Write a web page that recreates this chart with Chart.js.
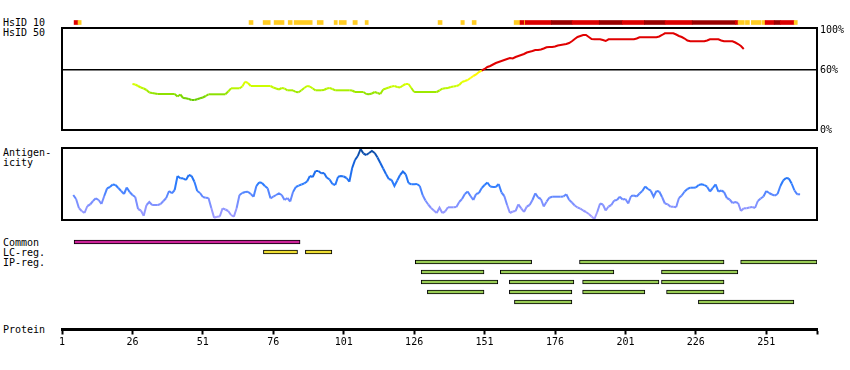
<!DOCTYPE html>
<html>
<head>
<meta charset="utf-8">
<script src="https://cdn.jsdelivr.net/npm/chart.js@4.4.0/dist/chart.umd.min.js"></script>
<style>
body { margin: 0; background: #fff; }
#wrap { position: relative; width: 850px; height: 370px; overflow: hidden; font-family: "DejaVu Sans Mono", monospace; font-size: 10px; color: #000; }
.lbl { position: absolute; left: 3px; line-height: 10px; white-space: nowrap; }
canvas { position: absolute; left: 0; }
</style>
</head>
<body>
<div id="wrap">
  <div class="lbl" style="top:18px">HsID 10</div>
  <div class="lbl" style="top:28px">HsID 50</div>
  <div class="lbl" style="top:148px">Antigen-</div>
  <div class="lbl" style="top:158px">icity</div>
  <div class="lbl" style="top:238px">Common</div>
  <div class="lbl" style="top:248px">LC-reg.</div>
  <div class="lbl" style="top:258px">IP-reg.</div>
  <div class="lbl" style="top:325px">Protein</div>

  <canvas id="hsid10" width="850" height="15" style="top:15px"></canvas>
  <canvas id="hsid50" width="850" height="122" style="top:18px"></canvas>
  <canvas id="antigen" width="850" height="90" style="top:140px"></canvas>
  <canvas id="features" width="850" height="80" style="top:232px"></canvas>
  <canvas id="protein" width="850" height="50" style="top:300px"></canvas>
</div>
<script>
// protein length and axis ticks
const proteinMin = 1;
const proteinMax = 269;
const proteinTicks = [1, 26, 51, 76, 101, 126, 151, 176, 201, 226, 251, 269];
const identityTicks = [0, 60, 100];

// HsID 10 blocks (residue from/to, level 0 = weak, 1 = strong, 2 = strongest)
const hsid10Start = [5.3, 6.7, 67.4, 72.4, 76.3, 81.3, 83.4, 91.6, 97.6, 99.4, 104.3, 108.6, 134.5, 142.6, 146.6,
  161.5, 163.6, 165.1, 165.4, 174.7, 182.1, 191.7, 199.9, 207.7, 215.1, 224.7, 240.0, 241.0, 243.6, 245.7, 249.6, 250.6, 253.8, 256.0, 260.9];
const hsid10End = [6.7, 7.8, 68.8, 74.9, 79.8, 82.7, 89.8, 93.7, 98.7, 101.9, 105.8, 109.7, 135.9, 143.8, 148.0,
  163.6, 165.1, 165.4, 174.7, 182.1, 191.7, 199.9, 207.7, 215.1, 224.7, 240.0, 241.0, 243.2, 245.0, 249.2, 250.6, 253.8, 256.0, 260.9, 262.0];
const hsid10Level = [1, 0, 0, 0, 0, 0, 0, 0, 0, 0, 0, 0, 0, 0, 0,
  0, 1, 0, 1, 2, 1, 2, 1, 2, 1, 2, 1, 0, 0, 0, 0, 1, 2, 1, 0];

// HsID 50 identity (%), one value per residue from residue 26
const hsid50Start = 26;
const hsid50 = [
  46, 45.5, 44, 42.5, 41.5, 40, 37.5, 37, 36.5, 36,
  36, 36, 36, 36, 36, 36, 33.5, 35.5, 32, 31.7,
  31, 30, 30, 30.8, 31.7, 32.5, 34, 35.7, 35.7, 35.7,
  35.7, 35.7, 35.7, 35.7, 38.5, 41.7, 41.7, 41.7, 41.7, 43.5,
  48.3, 47, 44, 44, 44, 44, 44, 44, 44, 44,
  42.5, 41.5, 40.5, 42, 41.5, 39.7, 39.7, 39.7, 38, 37.7,
  39.7, 42, 44, 43.5, 41.5, 39.7, 39.7, 39.7, 40, 41.5,
  42, 41, 39.7, 39.7, 39.7, 39.7, 39.7, 39.7, 39.5, 38,
  38, 38, 38, 36, 35.7, 36.5, 38, 37, 36, 40.5,
  41.5, 42.5, 43.5, 44, 43, 42.5, 44.5, 46, 46, 42,
  38, 38, 38, 38, 38, 38, 38, 38, 38, 39.5,
  41.3, 41.7, 42, 43, 43.5, 44, 45, 48, 49, 50,
  52, 54, 55.5, 58, 59.5, 61, 63, 64, 65.5, 67,
  68, 69, 70, 71, 72, 71.5, 73, 74, 75, 76,
  77.5, 78.3, 79, 80, 80, 80.5, 81.5, 82.7, 83, 83,
  83.5, 84.5, 85, 85.5, 86, 87, 88.7, 91, 93, 94,
  95, 95, 93, 91, 90.7, 90.7, 90.7, 90, 89, 90.7,
  90.7, 90.7, 90.7, 90.7, 90.7, 90.7, 90.7, 90.7, 90.7, 91.5,
  92.7, 92.7, 92.7, 92.7, 92.7, 92.7, 92.7, 93.5, 95, 96.7,
  96.7, 96.7, 96.7, 95.5, 94, 93, 91.5, 89.5, 88.7, 88.7,
  88.7, 88.7, 88.7, 88.7, 89.5, 90.7, 90.7, 90.7, 90.7, 89.5,
  88.7, 88.7, 88.7, 88.7, 87.5, 86, 84, 81
];

// antigenicity, one value per residue from residue 5
const antigenStart = 5;
const antigen = [
  25, 21, 12, 9, 7, 14, 15.5, 19, 21.7, 20,
  16, 24, 31.7, 33, 35.5, 35, 32, 29, 26, 32.5,
  28, 25, 23, 11, 9.5, 4.3, 15, 18, 15, 15,
  15, 16, 19, 22, 29, 26.7, 30, 44, 41.7, 41.7,
  40, 45, 44, 38.3, 29, 27, 23, 22.3, 22, 12,
  2.3, 3.3, 3.5, 11.7, 10.5, 9, 5, 3.3, 12, 25,
  27, 28, 28.3, 26, 23.3, 34, 37.7, 37, 34, 31.7,
  21.7, 23.3, 25, 26.7, 25, 20, 22, 18.5, 28, 33,
  34.3, 35.5, 36.7, 38.5, 44, 43, 49, 49, 46.7, 47,
  42.3, 40.5, 36, 35, 43.3, 44, 43.5, 42, 38.3, 52,
  60, 64, 71, 66.5, 65, 67, 69, 67, 62.5, 57,
  51.5, 46, 41, 40, 34, 39.5, 45, 48.5, 45.7, 37,
  35.7, 35.7, 36, 34, 25, 19.5, 15.5, 12, 9.5, 7,
  12.3, 7, 8.5, 12.7, 12.7, 12.7, 13, 18, 21, 26,
  28.5, 24, 20, 26, 27, 32, 35, 37.5, 33.5, 33,
  33, 36, 27.5, 24, 15, 7, 8.5, 9, 15.7, 11.7,
  8, 13.5, 15, 20, 26.7, 22.5, 21, 13.5, 18.3, 22.3,
  23.3, 23.3, 23.3, 23.3, 23.5, 25.7, 20.3, 17.5, 14.5, 12.5,
  11.3, 9.5, 8, 6, 3.5, 1, 8, 16.5, 15.5, 9.5,
  13.5, 15, 19.5, 20, 23.3, 20.5, 21, 16.5, 24, 24.5,
  23.5, 26.5, 29, 33.5, 31, 29.3, 23.3, 29, 28.5, 23,
  16.5, 15.8, 13.3, 13.3, 12.8, 22, 24.5, 28.5, 31, 32.3,
  32.3, 32.5, 35, 35.7, 35, 33.3, 28.5, 32, 35.7, 28.3,
  29.5, 28, 22, 20.5, 17, 18, 17, 9, 11.7, 11.7,
  12.5, 13, 12, 19, 21.5, 23.5, 29, 27, 25.5, 24.3,
  26, 34, 39.5, 42, 41.5, 36.5, 29.5, 25.7, 25.7
];

// feature rows
const featureRows = ['Common', 'LC-reg.', 'IP-reg.', 'IP-2', 'IP-3', 'IP-4', 'IP-5'];
const featureStart = [5.3, 72.5, 87.4,
  126.4, 184.7, 241.9,
  128.5, 156.6, 213.8,
  128.5, 159.8, 185.8, 213.8,
  130.7, 159.8, 185.8, 215.6,
  161.6, 226.9];
const featureEnd = [85.5, 84.6, 96.8,
  167.7, 236.0, 269.0,
  150.8, 196.9, 240.9,
  155.7, 182.7, 212.9, 236.0,
  150.8, 182.0, 207.9, 236.0,
  182.0, 260.8];
const featureRow = [0, 1, 1, 2, 2, 2, 3, 3, 3, 4, 4, 4, 4, 5, 5, 5, 5, 6, 6];
const featureColors = ['#cc2299', '#eedd33', '#99cc55'];

const hsid10Colors = ['#ffcc22', '#dd0000', '#990000'];
const font = { family: 'DejaVu Sans Mono', size: 10 };

Chart.defaults.font.family = 'DejaVu Sans Mono';
Chart.defaults.font.size = 10;
Chart.defaults.color = '#000';

const boxPlugin = {
    id: 'box',
    afterDraw(chart) {
        const a = chart.chartArea;
        const ctx = chart.ctx;
        ctx.save();
        ctx.strokeStyle = '#000';
        ctx.lineWidth = 2;
        ctx.strokeRect(a.left, a.top, a.right - a.left, a.bottom - a.top);
        ctx.restore();
    }
};

// green -> yellow below 60%, red above
function hsColor(v) {
    if (v >= 60) return '#e00000';
    const hue = Math.max(58, 90 - (v - 30) * 1.3);
    const light = Math.min(50, 40 + (v - 30) * 0.7);
    return `hsl(${hue}, 100%, ${light}%)`;
}

function mix(a, b, t) {
    return a.map((c, i) => Math.round(c + (b[i] - c) * t));
}

const antigenStops = [
    [0, [172, 160, 255]],
    [20, [115, 140, 255]],
    [35, [45, 125, 255]],
    [55, [20, 100, 225]],
    [72, [10, 70, 150]]
];
function antigenColor(v) {
    for (let i = 1; i < antigenStops.length; i++) {
        if (v <= antigenStops[i][0]) {
            const [v0, c0] = antigenStops[i - 1];
            const [v1, c1] = antigenStops[i];
            const c = mix(c0, c1, (v - v0) / (v1 - v0));
            return `rgb(${c[0]}, ${c[1]}, ${c[2]})`;
        }
    }
    return 'rgb(10, 70, 150)';
}

const xHidden = { type: 'linear', min: proteinMin, max: proteinMax, display: false };

// HsID 10 strip
new Chart(document.getElementById('hsid10'), {
    type: 'bar',
    data: {
        labels: ['HsID 10'],
        datasets: [{
            data: hsid10Start.map((s, i) => ({ x: [s, hsid10End[i]], y: 'HsID 10' })),
            backgroundColor: ctx => hsid10Colors[hsid10Level[ctx.dataIndex]],
            barThickness: 4,
            borderWidth: 0
        }]
    },
    options: {
        indexAxis: 'y',
        responsive: false,
        animation: false,
        layout: { padding: { left: 62, right: 33, top: 0, bottom: 0 } },
        plugins: { legend: { display: false }, tooltip: { enabled: false } },
        scales: { x: xHidden, y: { display: false } }
    }
});

// HsID 50 line
new Chart(document.getElementById('hsid50'), {
    type: 'line',
    data: {
        datasets: [{
            data: hsid50.map((v, i) => ({ x: hsid50Start + i, y: v })),
            borderWidth: 2,
            borderColor: '#e00000',
            pointRadius: 0,
            tension: 0,
            segment: {
                borderColor: ctx => hsColor((ctx.p0.parsed.y + ctx.p1.parsed.y) / 2)
            }
        }]
    },
    options: {
        responsive: false,
        animation: false,
        layout: { padding: { left: 62, right: 0, top: 10, bottom: 10 } },
        plugins: { legend: { display: false }, tooltip: { enabled: false } },
        scales: {
            x: xHidden,
            y: {
                position: 'right',
                min: 0,
                max: 102,
                afterBuildTicks: s => { s.ticks = identityTicks.map(v => ({ value: v })); },
                afterFit: s => { s.width = 33; },
                ticks: { padding: 3, font: font, color: '#000', callback: v => v + '%' },
                grid: {
                    drawTicks: false,
                    lineWidth: 1.5,
                    color: ctx => (ctx.tick && ctx.tick.value === 60) ? '#000' : 'rgba(0,0,0,0)'
                },
                border: { display: false }
            }
        }
    },
    plugins: [boxPlugin]
});

// antigenicity
new Chart(document.getElementById('antigen'), {
    type: 'line',
    data: {
        datasets: [{
            data: antigen.map((v, i) => ({ x: antigenStart + i, y: v })),
            borderWidth: 2,
            borderColor: '#3377ff',
            pointRadius: 0,
            tension: 0,
            segment: {
                borderColor: ctx => antigenColor((ctx.p0.parsed.y + ctx.p1.parsed.y) / 2)
            }
        }]
    },
    options: {
        responsive: false,
        animation: false,
        layout: { padding: { left: 62, right: 33, top: 8, bottom: 10 } },
        plugins: { legend: { display: false }, tooltip: { enabled: false } },
        scales: {
            x: xHidden,
            y: { display: false, min: 0, max: 72 }
        }
    },
    plugins: [boxPlugin]
});

// features
new Chart(document.getElementById('features'), {
    type: 'bar',
    data: {
        labels: featureRows,
        datasets: [{
            data: featureStart.map((s, i) => ({ x: [s, featureEnd[i]], y: featureRows[featureRow[i]] })),
            backgroundColor: ctx => featureColors[Math.min(featureRow[ctx.dataIndex], 2)],
            borderColor: '#000',
            borderWidth: 1,
            borderSkipped: false,
            barThickness: 4
        }]
    },
    options: {
        indexAxis: 'y',
        responsive: false,
        animation: false,
        layout: { padding: { left: 62, right: 33, top: 5, bottom: 5 } },
        plugins: { legend: { display: false }, tooltip: { enabled: false } },
        scales: { x: xHidden, y: { display: false } }
    }
});

// protein axis
new Chart(document.getElementById('protein'), {
    type: 'line',
    data: { datasets: [] },
    options: {
        responsive: false,
        animation: false,
        layout: { padding: { left: 62, right: 33, top: 0, bottom: 0 } },
        plugins: { legend: { display: false }, tooltip: { enabled: false } },
        scales: {
            x: {
                type: 'linear',
                position: 'bottom',
                min: proteinMin,
                max: proteinMax,
                afterBuildTicks: s => { s.ticks = proteinTicks.map(v => ({ value: v })); },
                afterFit: s => { s.height = 20.5; },
                ticks: {
                    autoSkip: false,
                    maxRotation: 0,
                    padding: 2,
                    font: font,
                    color: '#000',
                    callback: v => (v === proteinMax ? '' : v)
                },
                grid: {
                    drawOnChartArea: false,
                    drawTicks: true,
                    tickLength: 5,
                    tickWidth: 2,
                    tickColor: '#000'
                },
                border: { display: true, color: '#000', width: 3 }
            },
            y: { display: false, min: 0, max: 1 }
        }
    }
});
</script>
</body>
</html>
